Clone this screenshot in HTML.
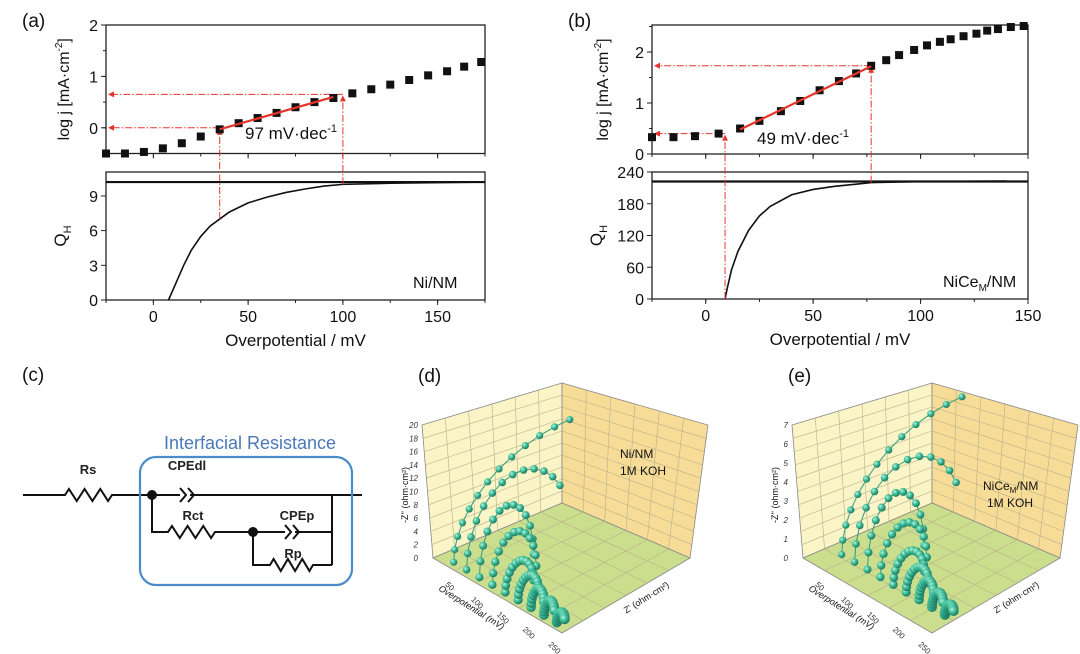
<!DOCTYPE html>
<html><head><meta charset="utf-8"><style>
html,body{margin:0;padding:0;background:#fff;}
svg{display:block;font-family:"Liberation Sans",Arial,sans-serif;}
</style></head><body>
<svg id="fig" width="1080" height="654" viewBox="0 0 1080 654" xmlns="http://www.w3.org/2000/svg">
<defs>
<radialGradient id="ball" cx="0.35" cy="0.35" r="0.7">
<stop offset="0" stop-color="#b8f0dc"/><stop offset="0.45" stop-color="#3fbf9a"/><stop offset="1" stop-color="#17715a"/>
</radialGradient>
</defs>
<g id="root"></g>
</svg>
<script>
// ---- Panel (a) data ----
const aEta = [-25,-15,-5,5,15,25,35,45,55,65,75,85,95,105,115,125,135,145,155,164,173];
const aLogj = [-0.5,-0.5,-0.47,-0.4,-0.3,-0.17,-0.03,0.09,0.19,0.29,0.4,0.5,0.58,0.67,0.75,0.84,0.93,1.02,1.1,1.19,1.28];
const aQEta = [8,12,16,20,25,30,35,40,50,60,70,80,90,100,125,175];
const aQ = [0,1.5,3,4.3,5.5,6.4,7.0,7.6,8.4,8.9,9.3,9.6,9.85,10.0,10.1,10.2];
const aFit = [35,-0.03,95,0.6];
const aMarks = [35,0,100,0.65];
const aXTicks = [0,50,100,150];
const aYTicks = [0,1,2];
const aQTicks = [0,3,6,9];
// ---- Panel (b) data ----
const bEta = [-25,-15,-5,6,16,25,35,44,53,62,70,77,84,90,97,103,109,114,120,126,131,136,142,148];
const bLogj = [0.33,0.33,0.35,0.4,0.5,0.65,0.84,1.04,1.25,1.43,1.58,1.73,1.84,1.94,2.04,2.13,2.2,2.25,2.31,2.36,2.42,2.45,2.49,2.51];
const bQEta = [9,10,12,15,20,25,30,40,50,60,70,77,100,140];
const bQ = [0,20,55,90,130,157,175,197,207,213,217,220,222,223];
const bFit = [16,0.48,77,1.72];
const bMarks = [9,0.4,77,1.73];
const bXTicks = [0,50,100,150];
const bYTicks = [0,1,2];
const bQTicks = [0,60,120,180,240];
// ---- Panel (d)/(e) EIS data ----
const dEtaSeries = [25,50,75,100,125,150,175,200,225];
const dDiam = [90,40,21,17,11,8,5,4,3];
const dPeak = [14,11.4,9,6.5,3.8,3,2.4,1.8,1.2];
const dTEnd = [0.5,0.8,1,1,1,1,1,1,1];
const eDiam = [28,12.5,6.6,5.4,3.6,2.6,1.7,1.3,1];
const ePeak = [5.6,4.2,3.4,2.3,1.4,1.05,0.85,0.63,0.42];
const eTEnd = [0.5,0.85,1,1,1,1,1,1,1];
const dZiTicks = [0,2,4,6,8,10,12,14,16,18,20];
const eZiTicks = [0,1,2,3,4,5,6,7];

const NS='http://www.w3.org/2000/svg';
const root=document.getElementById('root');
function el(tag,attrs,parent){const e=document.createElementNS(NS,tag);for(const k in attrs)e.setAttribute(k,attrs[k]);(parent||root).appendChild(e);return e;}
function txt(x,y,s,attrs,parent){const t=el('text',Object.assign({x:x,y:y,'font-size':16,fill:'#111'},attrs||{}),parent);t.textContent=s;return t;}
function lin(d0,d1,r0,r1){return v=>r0+(v-d0)/(d1-d0)*(r1-r0);}
const RED='#e5352b';
const DASH='7 2 1.5 2';

function panel(cfg){
  const g=el('g',{});
  
  
  const X=lin(cfg.xmin,cfg.xmax,cfg.L,cfg.R);
  const Y=lin(cfg.ymin,cfg.ymax,cfg.T1b,cfg.T1t);
  const Q=lin(0,cfg.qmax,cfg.T2b,cfg.T2t);
  const f1=el('rect',{x:cfg.L,y:cfg.T1t,width:cfg.R-cfg.L,height:cfg.T1b-cfg.T1t,fill:'none',stroke:'#222','stroke-width':1.3},g);
  
  const f2=el('rect',{x:cfg.L,y:cfg.T2t,width:cfg.R-cfg.L,height:cfg.T2b-cfg.T2t,fill:'none',stroke:'#222','stroke-width':1.3},g);
  
  const bl=el('line',{x1:cfg.L,x2:cfg.R,y1:Q(cfg.qline),y2:Q(cfg.qline),stroke:'#111','stroke-width':2.2},g);
  
  cfg.xt.forEach(v=>{
    el('line',{x1:X(v),x2:X(v),y1:cfg.T2b,y2:cfg.T2b+5,stroke:'#222'},g);
    el('line',{x1:X(v),x2:X(v),y1:cfg.T1b,y2:cfg.T1b+5,stroke:'#222'},g);
    const t=txt(X(v),cfg.T2b+22,String(v),{'text-anchor':'middle'},g);
    
  });
  for(let v=cfg.xt[0]-25;v<=cfg.xmax;v+=25){ if(v>=cfg.xmin){el('line',{x1:X(v),x2:X(v),y1:cfg.T2b,y2:cfg.T2b+3,stroke:'#222'},g);el('line',{x1:X(v),x2:X(v),y1:cfg.T1b,y2:cfg.T1b+3,stroke:'#222'},g);} }
  cfg.yt.forEach(v=>{
    el('line',{x1:cfg.L-5,x2:cfg.L,y1:Y(v),y2:Y(v),stroke:'#222'},g);
    const t=txt(cfg.L-8,Y(v)+6,String(v),{'text-anchor':'end'},g);
    
  });
  for(let v=cfg.ymin;v<=cfg.ymax;v+=0.5) el('line',{x1:cfg.L-3,x2:cfg.L,y1:Y(v),y2:Y(v),stroke:'#222'},g);
  cfg.qt.forEach(v=>{
    el('line',{x1:cfg.L-5,x2:cfg.L,y1:Q(v),y2:Q(v),stroke:'#222'},g);
    const t=txt(cfg.L-8,Q(v)+6,String(v),{'text-anchor':'end'},g);
    
  });
  const qp=cfg.qe.map((e,i)=>X(e)+','+Q(cfg.q[i])).join(' ');
  const qc=el('polyline',{points:qp,fill:'none',stroke:'#111','stroke-width':1.6},g);
  
  function qAt(e){for(let i=1;i<cfg.qe.length;i++){if(e<=cfg.qe[i]){const t=(e-cfg.qe[i-1])/(cfg.qe[i]-cfg.qe[i-1]);return cfg.q[i-1]+t*(cfg.q[i]-cfg.q[i-1]);}}return cfg.q[cfg.q.length-1];}
  for(let k=0;k<2;k++){
    const e=cfg.marks[k*2],lj=cfg.marks[k*2+1];
    const h=el('line',{x1:X(e),x2:cfg.L+4,y1:Y(lj),y2:Y(lj),stroke:RED,'stroke-dasharray':DASH,'stroke-width':1},g);
    
    el('path',{d:`M${cfg.L+2},${Y(lj)} l6,-3 l0,6 z`,fill:RED},g);
    const v=el('line',{x1:X(e),x2:X(e),y1:Q(qAt(e)),y2:Y(lj)+4,stroke:RED,'stroke-dasharray':DASH,'stroke-width':1},g);
    
    el('path',{d:`M${X(e)},${Y(lj)+1} l-3,6 l6,0 z`,fill:RED},g);
  }
  cfg.eta.forEach((e,i)=>{
    const r=el('rect',{x:X(e)-4,y:Y(cfg.lj[i])-4,width:8,height:8,fill:'#111'},g);
    
  });
  const fl=el('line',{x1:X(cfg.fit[0]),y1:Y(cfg.fit[1]),x2:X(cfg.fit[2]),y2:Y(cfg.fit[3]),stroke:RED,'stroke-width':2.2},g);
  
  const tt=txt(cfg.tafelX,cfg.tafelY,cfg.tafel,{'font-size':17},g);
  const sup=el('tspan',{'font-size':11,dy:-7},tt);sup.textContent='-1';
  
  const pl=txt(cfg.L-84,27,cfg.letter,{'font-size':19},g);
  
  const yl=txt(0,0,'log j [mA·cm',{'font-size':16,'text-anchor':'middle',transform:`translate(${cfg.L-cfg.ylOff},${(cfg.T1t+cfg.T1b)/2}) rotate(-90)`},g);
  const s1=el('tspan',{'font-size':10,dy:-7},yl);s1.textContent='-2';
  const s2=el('tspan',{dy:7},yl);s2.textContent=']';
  
  const ql=txt(0,0,'Q',{'font-size':17,'text-anchor':'middle',transform:`translate(${cfg.L-cfg.qlOff},${(cfg.T2t+cfg.T2b)/2}) rotate(-90)`},g);
  const s3=el('tspan',{'font-size':11,dy:5},ql);s3.textContent='H';
  
  const xl=txt((cfg.L+cfg.R)/2,cfg.T2b+46,'Overpotential / mV',{'font-size':17,'text-anchor':'middle'},g);
  
  const sl=txt(cfg.sampleX,cfg.T2b-12,cfg.sample,{'font-size':16},g);
  if(cfg.sub){const a=el('tspan',{'font-size':10,dy:4},sl);a.textContent=cfg.sub;const b=el('tspan',{dy:-4},sl);b.textContent='/NM';}
  
}
panel({name:'panel-a',letter:'(a)',L:106,R:485,T1t:25,T1b:153.5,T2t:172,T2b:300,xmin:-25,xmax:175,ymin:-0.5,ymax:2,qmax:11.07,qline:10.2,ylOff:37,qlOff:40,
  xt:aXTicks,yt:aYTicks,qt:aQTicks,eta:aEta,lj:aLogj,qe:aQEta,q:aQ,fit:aFit,marks:aMarks,tafel:'97 mV·dec',tafelX:245,tafelY:139,sample:'Ni/NM',sampleX:413});
panel({name:'panel-b',letter:'(b)',L:652,R:1028,T1t:25,T1b:154,T2t:172,T2b:299,xmin:-25,xmax:150,ymin:0,ymax:2.53,qmax:240,qline:222,ylOff:44,qlOff:50,
  xt:bXTicks,yt:bYTicks,qt:bQTicks,eta:bEta,lj:bLogj,qe:bQEta,q:bQ,fit:bFit,marks:bMarks,tafel:'49 mV·dec',tafelX:757,tafelY:144,sample:'NiCe',sub:'M',sampleX:943});

// ---- Panel (c) circuit ----
(function(){
  const g=el('g',{fill:'none',stroke:'#111','stroke-width':2});
  
  const lab=txt(22,381,'(c)',{'font-size':19});
  const box=el('rect',{x:140,y:457,width:212,height:128,rx:16,stroke:'#4a8cc8','stroke-width':2.2,fill:'none'});
  
  const it=txt(250,449,'Interfacial Resistance',{'font-size':18,'text-anchor':'middle',fill:'#4a78b8'});
  
  function res(x1,x2,y){const n=3,w=(x2-x1)/(n*2);let d=`M${x1},${y}`;for(let i=0;i<n*2;i++)d+=` L${x1+w*(i+0.5)},${y+(i%2?6:-6)}`;d+=` L${x2},${y}`;return d;}
  el('path',{d:`M23,495 L65,495 ${res(65,112,495).replace('M','L')} L180,495 M190,495 L362,495`},g);
  el('path',{d:'M180,488 l6,7 l-6,7 M188,488 l6,7 l-6,7'},g);
  el('path',{d:`M152,495 L152,532 L168,532 ${res(168,215,532).replace('M','L')} L285,532 M295,532 L332,532 M332,495 L332,565`},g);
  el('path',{d:'M285,525 l6,7 l-6,7 M293,525 l6,7 l-6,7'},g);
  el('path',{d:`M253,532 L253,565 L270,565 ${res(270,313,565).replace('M','L')} L332,565`},g);
  el('circle',{cx:152,cy:495,r:5,fill:'#111',stroke:'none'});
  el('circle',{cx:253,cy:532,r:5,fill:'#111',stroke:'none'});
  [['Rs',88,474],['CPEdl',187,470],['Rct',193,520],['CPEp',297,520],['Rp',293,558]].forEach(a=>{
    const t=txt(a[1],a[2],a[0],{'font-size':13,'font-weight':'bold','text-anchor':'middle',fill:'#222'});
    
  });
})();

// ---- Panels (d),(e) 3D EIS ----
function eis(cfg){
  const ox=cfg.ox;
  const g=el('g',{});
  
  const pl=txt(ox+18,382,cfg.letter,{'font-size':19},g);
  
  const o=[ox+33,558];
  const P=(eta,zr,zi)=>[o[0]+eta*129/250+zr*(2.58*cfg.zrS),o[1]+eta*75/250-zr*(1.1*cfg.zrS)-zi*cfg.ziS];
  const LW=[[ox+22,425],[ox+162,383],[ox+162,503],[ox+33,558]];
  const RW=[[ox+162,383],[ox+308,425],[ox+290,558],[ox+162,503]];
  const FL=[[ox+33,558],[ox+162,503],[ox+290,558],[ox+162,633]];
  const poly=(pts,fill,name)=>{const p=el('polygon',{points:pts.map(a=>a.join(',')).join(' '),fill:fill,stroke:'#888','stroke-width':0.8},g);};
  poly(LW,'#fbf4c6','back-left-wall');poly(RW,'#f7dc98','back-right-wall');poly(FL,'#cbde8e','floor');
  const grid=el('g',{stroke:'#b8b08a','stroke-width':0.6},g);
  const lerp=(a,b,t)=>[a[0]+(b[0]-a[0])*t,a[1]+(b[1]-a[1])*t];
  for(let i=1;i<10;i++){const t=i/10;let a=lerp(LW[0],LW[3],t),b=lerp(LW[1],LW[2],t);el('line',{x1:a[0],y1:a[1],x2:b[0],y2:b[1]},grid);
    a=lerp(RW[0],RW[3],t);b=lerp(RW[1],RW[2],t);el('line',{x1:a[0],y1:a[1],x2:b[0],y2:b[1]},grid);}
  for(let i=1;i<6;i++){const t=i/6;let a=lerp(LW[0],LW[1],t),b=lerp(LW[3],LW[2],t);el('line',{x1:a[0],y1:a[1],x2:b[0],y2:b[1]},grid);
    a=lerp(RW[0],RW[1],t);b=lerp(RW[3],RW[2],t);el('line',{x1:a[0],y1:a[1],x2:b[0],y2:b[1]},grid);
    a=lerp(FL[0],FL[1],t);b=lerp(FL[3],FL[2],t);el('line',{x1:a[0],y1:a[1],x2:b[0],y2:b[1]},grid);
    a=lerp(FL[0],FL[3],t);b=lerp(FL[1],FL[2],t);el('line',{x1:a[0],y1:a[1],x2:b[0],y2:b[1]},grid);}
  cfg.ziT.forEach(v=>{const y=558-v*cfg.ziS;const t=txt(ox+18,y+3,String(v),{'font-size':8,'font-style':'italic','text-anchor':'end',fill:'#333'},g);});
  const yl=txt(0,0,"-Z'' (ohm·cm²)",{'font-size':9,'text-anchor':'middle',transform:`translate(${ox+8},${495}) rotate(-90)`},g);
  
  const xl=txt(0,0,'Overpotential (mV)',{'font-size':9,'font-style':'italic','text-anchor':'middle',transform:`translate(${ox+70},${610}) rotate(32)`},g);
  
  const zl=txt(0,0,"Z' (ohm·cm²)",{'font-size':9,'text-anchor':'middle',transform:`translate(${ox+248},${600}) rotate(-32)`},g);
  
  [50,100,150,200,250].forEach(v=>{const t=txt(ox+33+v*0.516-14,558+v*0.3+12,String(v),{'font-size':8,fill:'#333',transform:`rotate(45 ${ox+33+v*0.516-14} ${558+v*0.3+12})`},g);});
  cfg.eta.forEach((e,i)=>{
    const sg=el('g',{},g);
    
    const N=12,pts=[];
    for(let k=0;k<=N;k++){const t=Math.PI*cfg.tEnd[i]*k/N;pts.push(P(e,3+cfg.diam[i]/2*(1-Math.cos(t)),cfg.peak[i]*Math.sin(t)));}
    el('polyline',{points:pts.map(p=>p.join(',')).join(' '),fill:'none',stroke:'#2f9c80','stroke-width':1},sg);
    const r=3.6+i*0.2;
    pts.forEach(p=>{const c=el('circle',{cx:p[0],cy:p[1],r:r,fill:'url(#ball)'},sg);});
  });
  const st=txt(cfg.stX,cfg.stY,cfg.sample,{'font-size':12},g);
  if(cfg.sub){const a=el('tspan',{'font-size':8,dy:3},st);a.textContent='M';const b=el('tspan',{dy:-3},st);b.textContent='/NM';}
  
  const k=txt(cfg.stX+(cfg.sub?4:0),cfg.stY+17,'1M KOH',{'font-size':12},g);
  
}
eis({name:'panel-d',letter:'(d)',ox:400,zrS:1,ziS:6.65,eta:dEtaSeries,diam:dDiam,peak:dPeak,tEnd:dTEnd,ziT:dZiTicks,sample:'Ni/NM',stX:620,stY:458});
eis({name:'panel-e',letter:'(e)',ox:770,zrS:3.33,ziS:19,eta:dEtaSeries,diam:eDiam,peak:ePeak,tEnd:eTEnd,ziT:eZiTicks,sample:'NiCe',sub:true,stX:983,stY:490});
</script>
</body></html>
